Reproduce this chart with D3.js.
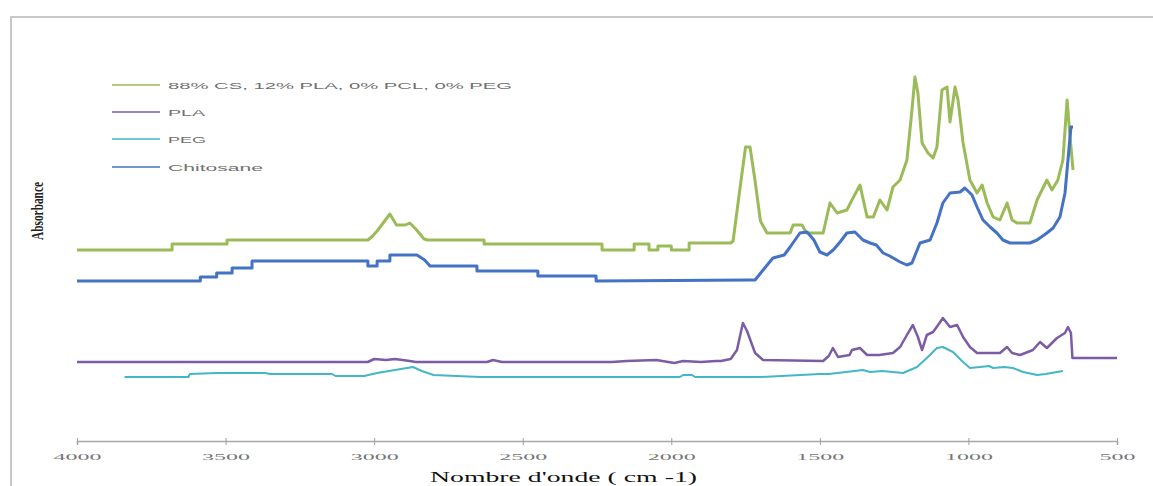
<!DOCTYPE html>
<html>
<head>
<meta charset="utf-8">
<script src="https://cdn.jsdelivr.net/npm/d3@7"></script>
<style>
  html, body { margin: 0; padding: 0; background: #fff; }
  svg { display: block; }
</style>
</head>
<body>
<svg id="chart" width="1153" height="486"></svg>
<script>
// ---------- data (wavenumber cm-1, absorbance a.u.) ----------
const seriesNames = ["88% CS, 12% PLA, 0% PCL, 0% PEG", "PLA", "PEG", "Chitosane"];
const seriesColors = ["#9bbb59", "#7b5ca5", "#45b6c6", "#4472c4"];
const xTicks = [4000, 3500, 3000, 2500, 2000, 1500, 1000, 500];
const xTitle = "Nombre d'onde ( cm -1)";
const yTitle = "Absorbance";

const blendCS = [[4000,1.91],[3680,1.91],[3680,1.97],[3495,1.97],[3495,2.01],[3021,2.01],[3005,2.05],[2990,2.10],[2947,2.27],[2925,2.16],[2895,2.16],[2880,2.18],[2860,2.12],[2832,2.02],[2820,2.01],[2630,2.01],[2630,1.97],[2233,1.97],[2233,1.91],[2125,1.91],[2125,1.97],[2075,1.97],[2075,1.91],[2045,1.91],[2045,1.95],[2000,1.95],[2000,1.91],[1940,1.91],[1940,1.98],[1800,1.98],[1792,2.00],[1770,2.50],[1750,2.94],[1735,2.94],[1718,2.60],[1700,2.20],[1678,2.08],[1600,2.08],[1590,2.16],[1560,2.16],[1545,2.08],[1489,2.08],[1466,2.38],[1442,2.28],[1409,2.31],[1392,2.41],[1365,2.56],[1341,2.24],[1320,2.24],[1298,2.41],[1274,2.31],[1254,2.54],[1230,2.61],[1207,2.81],[1190,3.31],[1180,3.64],[1170,3.48],[1156,2.98],[1136,2.88],[1119,2.83],[1106,2.94],[1089,3.51],[1072,3.54],[1062,3.19],[1045,3.54],[1035,3.41],[1018,2.98],[995,2.61],[971,2.48],[954,2.56],[937,2.38],[917,2.24],[894,2.21],[870,2.38],[853,2.21],[837,2.18],[793,2.18],[769,2.41],[736,2.61],[719,2.51],[699,2.61],[682,2.81],[668,3.41],[658,3.04],[648,2.71]];

const pla = [[4000,0.79],[3021,0.79],[3000,0.82],[2960,0.81],[2930,0.82],[2880,0.80],[2860,0.79],[2620,0.79],[2600,0.81],[2570,0.79],[2200,0.79],[2150,0.80],[2050,0.81],[1990,0.78],[1960,0.80],[1900,0.79],[1850,0.80],[1833,0.80],[1800,0.82],[1779,0.91],[1759,1.18],[1745,1.10],[1718,0.88],[1691,0.81],[1489,0.80],[1470,0.85],[1456,0.93],[1439,0.84],[1400,0.86],[1392,0.91],[1365,0.93],[1341,0.86],[1300,0.86],[1254,0.88],[1230,0.94],[1207,1.06],[1187,1.16],[1170,1.04],[1156,0.91],[1140,1.06],[1119,1.09],[1102,1.16],[1086,1.23],[1062,1.14],[1038,1.16],[1018,1.04],[995,0.94],[971,0.88],[894,0.88],[870,0.94],[853,0.88],[826,0.86],[783,0.91],[759,0.99],[736,0.93],[702,1.03],[675,1.08],[665,1.14],[655,1.08],[650,0.83],[648,0.83],[500,0.83]];

const peg = [[3840,0.64],[3625,0.64],[3620,0.67],[3530,0.68],[3367,0.68],[3350,0.67],[3142,0.67],[3130,0.65],[3034,0.65],[2990,0.68],[2930,0.71],[2869,0.74],[2840,0.70],[2800,0.66],[2644,0.64],[1971,0.64],[1960,0.66],[1930,0.66],[1920,0.64],[1701,0.64],[1500,0.67],[1470,0.67],[1355,0.71],[1331,0.69],[1290,0.70],[1220,0.68],[1173,0.74],[1140,0.83],[1106,0.93],[1086,0.94],[1052,0.89],[1018,0.79],[995,0.73],[961,0.74],[930,0.75],[917,0.73],[880,0.74],[850,0.73],[816,0.69],[769,0.66],[740,0.67],[702,0.69],[682,0.70]];

const chitosane = [[4000,1.60],[3585,1.60],[3585,1.64],[3530,1.64],[3530,1.68],[3478,1.68],[3478,1.73],[3411,1.73],[3411,1.80],[3021,1.80],[3021,1.75],[2990,1.75],[2990,1.80],[2947,1.80],[2947,1.86],[2856,1.86],[2830,1.81],[2812,1.75],[2654,1.75],[2654,1.70],[2449,1.70],[2449,1.65],[2253,1.65],[2253,1.60],[1735,1.61],[1718,1.61],[1691,1.71],[1658,1.83],[1620,1.86],[1600,1.94],[1567,2.08],[1543,2.09],[1520,2.01],[1500,1.89],[1476,1.86],[1455,1.91],[1432,1.99],[1409,2.08],[1382,2.09],[1355,2.01],[1331,1.98],[1310,1.96],[1287,1.88],[1265,1.85],[1230,1.79],[1207,1.76],[1190,1.78],[1163,1.98],[1129,2.01],[1106,2.18],[1086,2.38],[1062,2.48],[1028,2.49],[1012,2.53],[988,2.46],[971,2.34],[951,2.21],[927,2.14],[904,2.08],[884,2.01],[860,1.98],[793,1.98],[769,2.01],[736,2.08],[715,2.13],[692,2.24],[675,2.48],[665,2.81],[655,3.14],[648,3.14]];

const allSeries = [blendCS, pla, peg, chitosane];
const seriesWidths = [3, 2.5, 2, 3];

// ---------- layout ----------
const svg = d3.select("#chart");
const x = d3.scaleLinear().domain([4000, 500]).range([77, 1117]);
const y = d3.scaleLinear().domain([0, 4.2]).range([441, 21]);

// frame
svg.append("path")
  .attr("d", "M11,486 L11,17 L1153,17")
  .attr("fill", "none").attr("stroke", "#c8c8c8").attr("stroke-width", 2);

// x axis
const gx = svg.append("g").attr("transform", "translate(0,441)")
  .call(d3.axisBottom(x).tickValues(xTicks).tickFormat(d3.format("d")).tickSizeOuter(0).tickSize(4));
gx.select(".domain").attr("stroke", "#a8a8a8").attr("stroke-width", 1.5);
gx.selectAll(".tick line").attr("y1", -3).attr("y2", 4).attr("stroke", "#a0a0a0");
gx.selectAll(".tick text")
  .attr("y", 13)
  .attr("font-family", "Liberation Serif, serif")
  .attr("font-size", 8.5)
  .attr("fill", "#777")
  .attr("textLength", d => String(d).length * 12)
  .attr("lengthAdjust", "spacingAndGlyphs");

// axis titles
svg.append("text")
  .attr("x", 430).attr("y", 482)
  .attr("font-family", "Liberation Serif, serif")
  .attr("font-size", 15).attr("fill", "#111")
  .attr("textLength", 267).attr("lengthAdjust", "spacingAndGlyphs")
  .text(xTitle);

svg.append("text")
  .attr("transform", "translate(43,211) rotate(-90)")
  .attr("text-anchor", "middle")
  .attr("font-family", "Liberation Serif, serif")
  .attr("font-size", 16).attr("font-weight", "bold").attr("fill", "#222")
  .attr("textLength", 58).attr("lengthAdjust", "spacingAndGlyphs")
  .text(yTitle);

// series lines
const line = d3.line().x(d => x(d[0])).y(d => y(d[1]));
svg.append("g").selectAll("path")
  .data(allSeries)
  .join("path")
  .attr("d", line)
  .attr("fill", "none")
  .attr("stroke", (d, i) => seriesColors[i])
  .attr("stroke-width", (d, i) => seriesWidths[i])
  .attr("stroke-linejoin", "round");

// legend
const legendY = [85, 112, 139, 167];
const legendLen = [344, 37, 38, 95];
const lg = svg.append("g").selectAll("g").data(seriesNames).join("g")
  .attr("transform", (d, i) => `translate(112,${legendY[i]})`);
lg.append("line").attr("x1", 0).attr("x2", 48).attr("y1", 0).attr("y2", 0)
  .attr("stroke", (d, i) => seriesColors[i]).attr("stroke-width", 1.5);
lg.append("text").attr("x", 56).attr("y", 3.5)
  .attr("font-family", "Liberation Sans, sans-serif")
  .attr("font-size", 9).attr("fill", "#707070")
  .attr("textLength", (d, i) => legendLen[i]).attr("lengthAdjust", "spacingAndGlyphs")
  .text(d => d);
</script>
</body>
</html>
